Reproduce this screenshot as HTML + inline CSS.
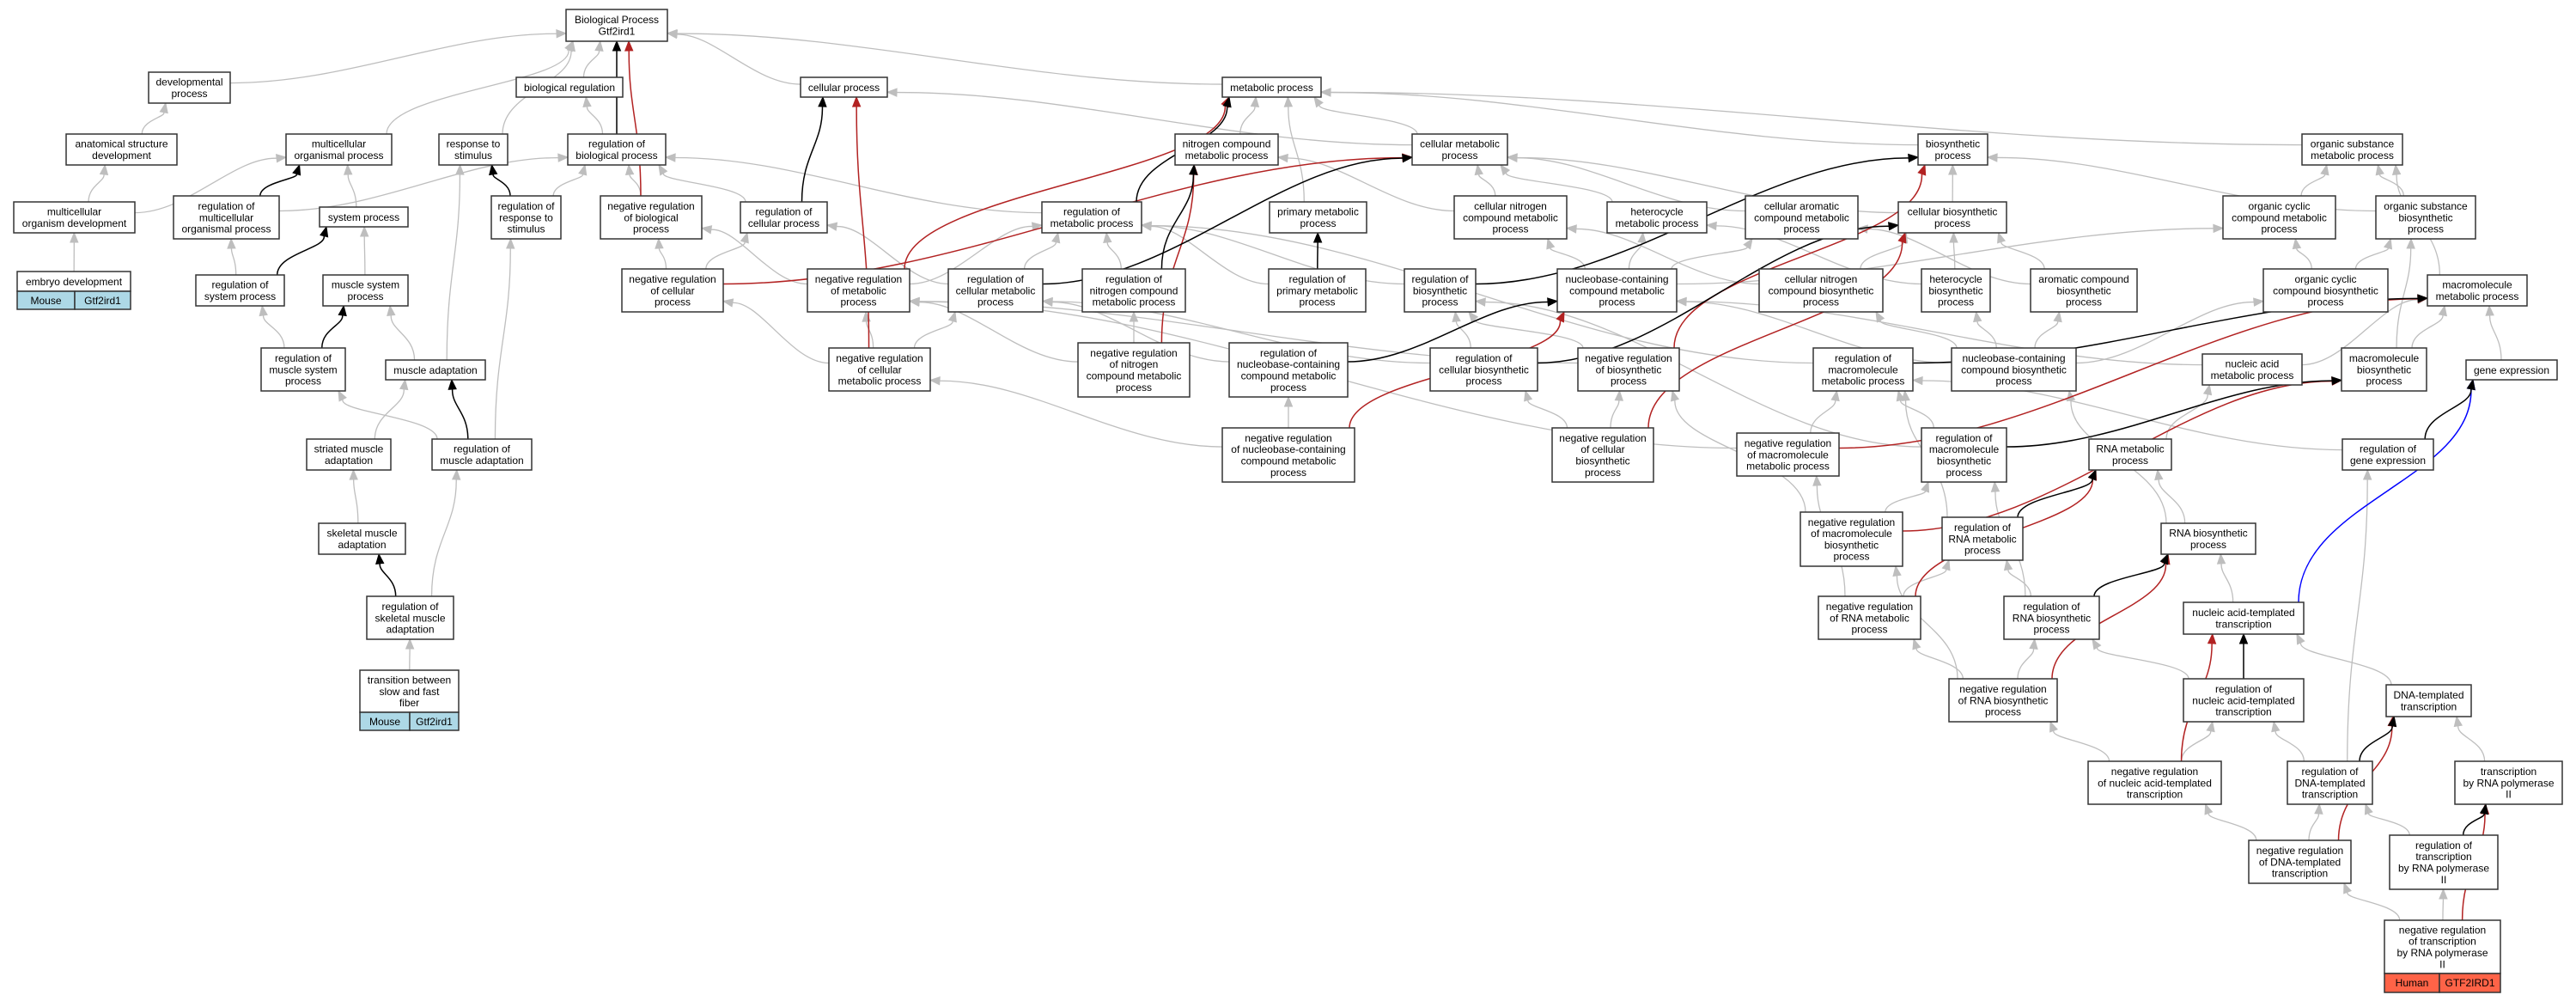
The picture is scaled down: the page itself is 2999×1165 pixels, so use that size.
<!DOCTYPE html>
<html><head><meta charset="utf-8"><style>
html,body{margin:0;padding:0;background:#fff;}
svg{display:block;font-family:"Liberation Sans",Arial,sans-serif;font-size:12px;}
</style></head><body>
<svg id="s" width="2999" height="1165" viewBox="0 0 2999 1165" xmlns="http://www.w3.org/2000/svg">
<rect width="2999" height="1165" fill="#fff"/>
<g id="edges"></g>
<g id="nodes" text-anchor="middle">
<text id="BP">Biological Process|Gtf2ird1</text>
<text id="dev">developmental|process</text>
<text id="bioreg">biological regulation</text>
<text id="cellp">cellular process</text>
<text id="metp">metabolic process</text>
<text id="anat">anatomical structure|development</text>
<text id="mop">multicellular|organismal process</text>
<text id="resp">response to|stimulus</text>
<text id="rbp">regulation of|biological process</text>
<text id="ncmp">nitrogen compound|metabolic process</text>
<text id="cmp">cellular metabolic|process</text>
<text id="biosyn">biosynthetic|process</text>
<text id="osmp">organic substance|metabolic process</text>
<text id="mod">multicellular|organism development</text>
<text id="rcp">regulation of|cellular process</text>
<text id="rmp">regulation of|metabolic process</text>
<text id="pmp">primary metabolic|process</text>
<text id="hmp">heterocycle|metabolic process</text>
<text id="cbp">cellular biosynthetic|process</text>
<text id="sysp">system process</text>
<text id="rmop">regulation of|multicellular|organismal process</text>
<text id="rrs">regulation of|response to|stimulus</text>
<text id="nrbp">negative regulation|of biological|process</text>
<text id="cncmp">cellular nitrogen|compound metabolic|process</text>
<text id="camp">cellular aromatic|compound metabolic|process</text>
<text id="ocmp">organic cyclic|compound metabolic|process</text>
<text id="osbp">organic substance|biosynthetic|process</text>
<text id="emb">embryo development</text>
<text id="rsp">regulation of|system process</text>
<text id="msp">muscle system|process</text>
<text id="mmp">macromolecule|metabolic process</text>
<text id="nrcp">negative regulation|of cellular|process</text>
<text id="nrmp">negative regulation|of metabolic|process</text>
<text id="rcmp">regulation of|cellular metabolic|process</text>
<text id="rncmp">regulation of|nitrogen compound|metabolic process</text>
<text id="rpmp">regulation of|primary metabolic|process</text>
<text id="rbsp">regulation of|biosynthetic|process</text>
<text id="nbcmp">nucleobase-containing|compound metabolic|process</text>
<text id="cncbp">cellular nitrogen|compound biosynthetic|process</text>
<text id="hbp">heterocycle|biosynthetic|process</text>
<text id="acbp">aromatic compound|biosynthetic|process</text>
<text id="ocbp">organic cyclic|compound biosynthetic|process</text>
<text id="rmsp">regulation of|muscle system|process</text>
<text id="musad">muscle adaptation</text>
<text id="nrcmp">negative regulation|of cellular|metabolic process</text>
<text id="nrncmp">negative regulation|of nitrogen|compound metabolic|process</text>
<text id="rnbcmp">regulation of|nucleobase-containing|compound metabolic|process</text>
<text id="rcbp">regulation of|cellular biosynthetic|process</text>
<text id="nrbsp">negative regulation|of biosynthetic|process</text>
<text id="rmmp">regulation of|macromolecule|metabolic process</text>
<text id="nbcbp">nucleobase-containing|compound biosynthetic|process</text>
<text id="namp">nucleic acid|metabolic process</text>
<text id="mbp">macromolecule|biosynthetic|process</text>
<text id="genexp">gene expression</text>
<text id="nrnbcmp">negative regulation|of nucleobase-containing|compound metabolic|process</text>
<text id="nrcbp">negative regulation|of cellular|biosynthetic|process</text>
<text id="nrmmp">negative regulation|of macromolecule|metabolic process</text>
<text id="rmbp">regulation of|macromolecule|biosynthetic|process</text>
<text id="rnamp">RNA metabolic|process</text>
<text id="rge">regulation of|gene expression</text>
<text id="stri">striated muscle|adaptation</text>
<text id="rma">regulation of|muscle adaptation</text>
<text id="nrmbp">negative regulation|of macromolecule|biosynthetic|process</text>
<text id="rrnamp">regulation of|RNA metabolic|process</text>
<text id="rnabp">RNA biosynthetic|process</text>
<text id="skel">skeletal muscle|adaptation</text>
<text id="nrrnamp">negative regulation|of RNA metabolic|process</text>
<text id="rrnabp">regulation of|RNA biosynthetic|process</text>
<text id="natt">nucleic acid-templated|transcription</text>
<text id="rska">regulation of|skeletal muscle|adaptation</text>
<text id="nrrnabp">negative regulation|of RNA biosynthetic|process</text>
<text id="rnatt">regulation of|nucleic acid-templated|transcription</text>
<text id="dtt">DNA-templated|transcription</text>
<text id="trans">transition between|slow and fast|fiber</text>
<text id="nrnatt">negative regulation|of nucleic acid-templated|transcription</text>
<text id="rdtt">regulation of|DNA-templated|transcription</text>
<text id="tpol">transcription|by RNA polymerase|II</text>
<text id="nrdtt">negative regulation|of DNA-templated|transcription</text>
<text id="rtpol">regulation of|transcription|by RNA polymerase|II</text>
<text id="nrtpol">negative regulation|of transcription|by RNA polymerase|II</text>
</g>
<g text-anchor="middle" stroke-width="1.5">
<rect x="20" y="339" width="67" height="21" fill="#add8e6" stroke="#333"/>
<rect x="87" y="339" width="65" height="21" fill="#add8e6" stroke="#333"/>
<text x="53.5" y="354">Mouse</text><text x="119.5" y="354">Gtf2ird1</text>
<rect x="419" y="829" width="58" height="21" fill="#add8e6" stroke="#333"/>
<rect x="477" y="829" width="57" height="21" fill="#add8e6" stroke="#333"/>
<text x="448" y="844">Mouse</text><text x="505.5" y="844">Gtf2ird1</text>
<rect x="2776" y="1133" width="64" height="22" fill="#ff6347" stroke="#333"/>
<rect x="2840" y="1133" width="71" height="22" fill="#ff6347" stroke="#333"/>
<text x="2808" y="1148">Human</text><text x="2875.5" y="1148">GTF2IRD1</text>
</g>
</svg>
<script>
var B={BP:[659,11,777,48],dev:[173,84,268,120],bioreg:[601,90,725,113],cellp:[932,90,1033,113],metp:[1423,90,1538,113],
anat:[77,156,206,192],mop:[333,156,456,192],resp:[511,156,591,192],rbp:[661,156,775,192],ncmp:[1368,156,1488,192],
cmp:[1644,156,1755,192],biosyn:[2233,156,2314,192],osmp:[2680,156,2797,192],mod:[16,235,157,271],rcp:[862,235,963,271],
rmp:[1213,235,1329,271],pmp:[1478,235,1591,271],hmp:[1871,235,1987,271],cbp:[2210,235,2336,271],sysp:[372,241,475,264],
rmop:[202,228,325,278],rrs:[572,228,653,278],nrbp:[699,228,817,278],cncmp:[1693,228,1824,278],camp:[2032,228,2163,278],
ocmp:[2588,228,2719,278],osbp:[2766,228,2882,278],emb:[20,316,152,339],rsp:[228,320,331,356],msp:[376,320,475,356],
mmp:[2826,320,2942,356],nrcp:[724,313,842,363],nrmp:[940,313,1059,363],rcmp:[1104,313,1214,363],rncmp:[1260,313,1380,363],
rpmp:[1477,313,1590,363],rbsp:[1635,313,1718,363],nbcmp:[1813,313,1952,363],cncbp:[2048,313,2192,363],hbp:[2237,313,2317,363],
acbp:[2364,313,2488,363],ocbp:[2635,313,2780,363],rmsp:[304,405,402,455],musad:[449,419,565,442],nrcmp:[965,405,1083,455],
nrncmp:[1255,399,1385,462],rnbcmp:[1431,399,1569,462],rcbp:[1665,405,1790,455],nrbsp:[1837,405,1955,455],rmmp:[2111,405,2227,455],
nbcbp:[2272,405,2417,455],namp:[2564,412,2680,448],mbp:[2726,405,2825,455],genexp:[2871,419,2977,442],nrnbcmp:[1423,498,1577,561],
nrcbp:[1807,498,1925,561],nrmmp:[2022,504,2141,554],rmbp:[2237,498,2336,561],rnamp:[2432,511,2528,547],rge:[2727,511,2833,547],
stri:[357,511,455,547],rma:[503,511,619,547],nrmbp:[2096,596,2215,659],rrnamp:[2261,602,2355,652],rnabp:[2516,609,2626,645],
skel:[371,609,472,645],nrrnamp:[2117,694,2236,744],rrnabp:[2333,694,2444,744],natt:[2542,701,2682,738],rska:[427,694,528,744],
nrrnabp:[2269,790,2395,840],rnatt:[2542,790,2682,840],dtt:[2778,797,2877,834],trans:[419,780,534,829],nrnatt:[2431,886,2586,936],
rdtt:[2663,886,2762,936],tpol:[2858,886,2983,936],nrdtt:[2618,978,2737,1028],rtpol:[2782,972,2908,1035],nrtpol:[2776,1071,2911,1133]};
var E="dev BP g,anat dev g,mod anat g,mod mop g,mop BP g,resp BP g,bioreg BP g,rbp bioreg g,rbp BP k,rmop mop k,rmop rbp g,sysp mop g,rrs resp k,rrs rbp g,nrbp rbp g,nrbp BP r,emb mod g,rsp rmop g,rsp sysp k,msp sysp g,nrcp nrbp g,nrcp rcp g,nrcp cmp r,rmsp rsp g,rmsp msp k,musad msp g,musad resp g,stri musad g,rma musad k,rma rmsp g,rma rrs g,skel stri g,rska skel k,rska rma g,trans rska g,cellp BP g,metp BP g,rcp cellp k,rcp rbp g,ncmp metp g,rmp metp k,rmp rbp g,nrmp rmp g,nrmp nrbp g,nrmp metp r,rcmp rmp g,rcmp rcp g,rcmp cmp k,nrcmp cellp r,nrcmp nrmp g,nrcmp rcmp g,nrcmp nrcp g,rncmp ncmp k,rncmp rmp g,nrncmp ncmp r,nrncmp rncmp g,nrncmp nrmp g,pmp metp g,rpmp pmp k,rpmp rmp g,cmp metp g,cmp cellp g,cncmp cmp g,cncmp ncmp g,hmp cmp g,camp cmp g,cbp biosyn g,cbp cmp g,biosyn metp g,osmp metp g,rbsp biosyn k,rbsp rmp g,nbcmp cncmp g,nbcmp hmp g,nbcmp camp g,nbcmp ocmp g,cncbp cbp g,cncbp cncmp g,hbp cbp g,hbp hmp g,acbp cbp g,acbp camp g,rnbcmp nbcmp k,rnbcmp rcmp g,nrnbcmp rnbcmp g,nrnbcmp nrcmp g,nrnbcmp nbcmp r,rcbp cbp k,rcbp rbsp g,rcbp rcmp g,nrbsp rbsp g,nrbsp biosyn r,nrbsp nrmp g,rmmp mmp k,rmmp rmp g,nrcbp rcbp g,nrcbp nrbsp g,nrcbp cbp r,nrmmp rmmp g,nrmmp mmp r,nrmmp nrmp g,rmbp rmmp g,rmbp mbp k,rmbp rbsp g,ocmp osmp g,osbp osmp g,osbp biosyn g,ocbp ocmp g,ocbp osbp g,mmp osmp g,nbcbp nbcmp g,nbcbp cncbp g,nbcbp hbp g,nbcbp acbp g,nbcbp ocbp g,namp mmp g,namp nbcmp g,mbp mmp g,mbp osbp g,genexp mmp g,rnamp namp g,rge genexp k,rge rmmp g,nrmbp rmbp g,nrmbp nrbsp g,nrmbp mbp r,rrnamp rnamp k,rrnamp rmmp g,rnabp rnamp g,rnabp nbcbp g,nrrnamp rrnamp g,nrrnamp nrmmp g,nrrnamp rnamp r,rrnabp rnabp k,rrnabp rrnamp g,rrnabp rmbp g,natt rnabp g,natt genexp b,nrrnabp rrnabp g,nrrnabp nrrnamp g,nrrnabp nrmbp g,nrrnabp rnabp r,rnatt natt k,rnatt rrnabp g,dtt natt g,nrnatt nrrnabp g,nrnatt rnatt g,nrnatt natt r,rdtt rnatt g,rdtt dtt k,rdtt rge g,tpol dtt g,nrdtt nrnatt g,nrdtt rdtt g,nrdtt dtt r,rtpol rdtt g,rtpol tpol k,nrtpol nrdtt g,nrtpol rtpol g,nrtpol tpol r";
var C={g:"#bebebe",k:"#000",r:"#b22222",b:"#0000ff"};
var NS="http://www.w3.org/2000/svg";
function el(t,a,p){var e=document.createElementNS(NS,t);for(var k in a)e.setAttribute(k,a[k]);p.appendChild(e);return e;}
var eg=document.getElementById("edges"),ng=document.getElementById("nodes");
var order={g:0,b:1,r:2,k:3};
var list=E.split(",").map(function(s){return s.split(" ");}).sort(function(a,b){return order[a[2]]-order[b[2]];});
list.forEach(function(e){
 var c=B[e[0]],p=B[e[1]],col=C[e[2]];
 var ccx=(c[0]+c[2])/2,pcx=(p[0]+p[2])/2;
 var sx,sy,ex,ey,c1x,c1y,c2x,c2y;
 var gapx=(pcx>ccx)?(p[0]-c[2]):(c[0]-p[2]);
 var gapy=c[1]-p[3];
 if(gapx>2.2*gapy && gapx>120){
   var dir=pcx>ccx?1:-1;
   sx=dir>0?c[2]:c[0]; sy=c[1]+(c[3]-c[1])*0.35;
   ex=dir>0?p[0]:p[2]; ey=p[1]+(p[3]-p[1])*0.75;
   var dx=Math.abs(ex-sx);
   c1x=sx+dir*dx*0.35;c1y=sy;c2x=ex-dir*dx*0.35;c2y=ey;
 } else {
   sx=Math.max(c[0]+6,Math.min(c[2]-6,ccx+(pcx-ccx)*0.3));sy=c[1];
   ex=Math.max(p[0]+8,Math.min(p[2]-8,pcx+(ccx-pcx)*0.35));ey=p[3];
   var dy=sy-ey;
   c1x=sx;c1y=sy-dy*0.45;c2x=ex;c2y=ey+dy*0.45;
 }
 var vx=ex-c2x+(ex-sx)*0.15,vy=ey-c2y+(ey-sy)*0.15;var L=Math.sqrt(vx*vx+vy*vy)||1;vx/=L;vy/=L;
 var al=11,aw=4.5,bx=ex-vx*al,by=ey-vy*al;
 el("path",{d:"M"+sx+","+sy+" C"+c1x+","+c1y+" "+c2x+","+c2y+" "+bx+","+by,fill:"none",stroke:col,"stroke-width":e[2]=="g"?1.3:1.5},eg);
 el("polygon",{points:ex+","+ey+" "+(bx-vy*aw)+","+(by+vx*aw)+" "+(bx+vy*aw)+","+(by-vx*aw),fill:col,stroke:col},eg);
});
Array.prototype.slice.call(ng.querySelectorAll("text")).forEach(function(t){
 var b=B[t.id];if(!b)return;
 var lines=t.textContent.split("|");t.textContent="";
 var cx=(b[0]+b[2])/2,cy=(b[1]+b[3])/2,lh=13.3;
 var y0=cy-(lines.length-1)*lh/2+4.3;
 lines.forEach(function(l,i){var ts=el("tspan",{x:cx,y:(y0+i*lh).toFixed(1)},t);ts.textContent=l;});
 var r=document.createElementNS(NS,"rect");
 r.setAttribute("x",b[0]);r.setAttribute("y",b[1]);r.setAttribute("width",b[2]-b[0]);r.setAttribute("height",b[3]-b[1]);
 r.setAttribute("fill","#fff");r.setAttribute("stroke","#333");r.setAttribute("stroke-width","1.5");
 ng.insertBefore(r,t);
});
</script>
</body></html>
